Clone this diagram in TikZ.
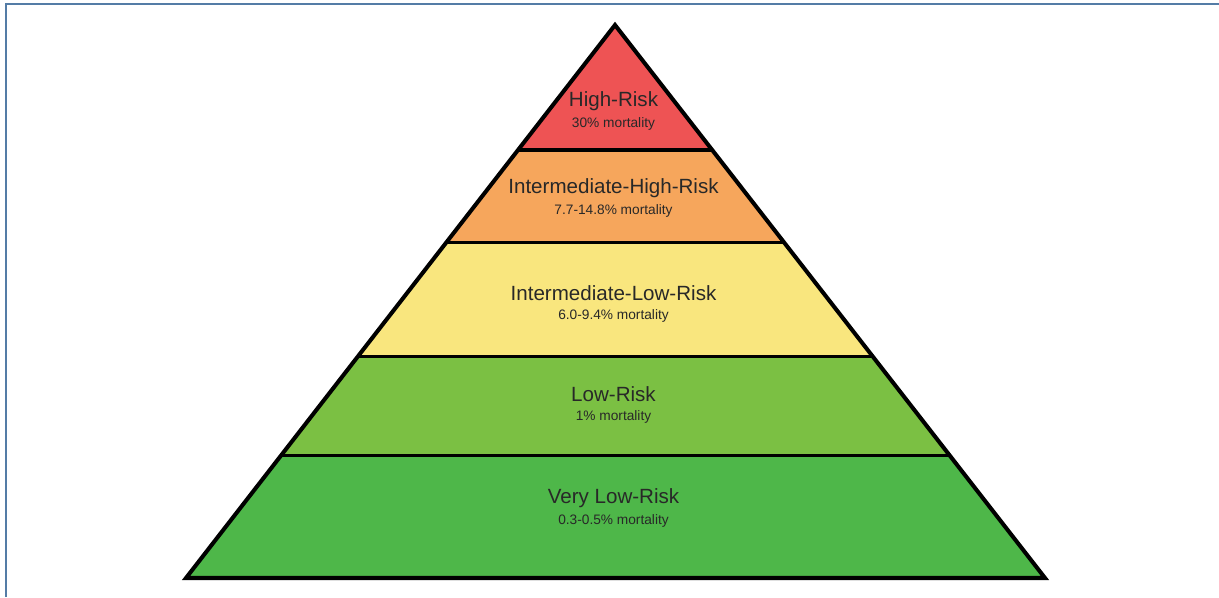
\documentclass[tikz,border=0pt]{standalone}
\usepackage{fontspec}
\setmainfont{Liberation Sans}
\usepackage{xcolor}
\usetikzlibrary{calc}
\definecolor{riskred}{RGB}{238,83,84}
\definecolor{riskorange}{RGB}{246,166,92}
\definecolor{riskyellow}{RGB}{249,230,126}
\definecolor{riskgreen}{RGB}{123,192,67}
\definecolor{riskdarkgreen}{RGB}{78,183,73}
\definecolor{frameblue}{RGB}{84,124,166}
\definecolor{labelgray}{RGB}{40,40,40}
\tikzstyle{level} = [text=labelgray,
font=\fontsize{11.7}{13}\selectfont]
\tikzstyle{rate} = [text=labelgray,
font=\fontsize{7.8}{9}\selectfont]
\tikzstyle{band} = [draw=black, line width=1.8pt]
\tikzstyle{outline} = [draw=black, line width=2.3pt]
\tikzstyle{frame} = [draw=frameblue, line width=1.5pt]

\begin{document}
\begin{tikzpicture}[node distance=0.46cm]
        \useasboundingbox (0,0) rectangle (24.38,-11.94);
        \draw [frame] (0.12,-11.94) -- (0.12,-0.08) -- (24.38,-0.08);
        \coordinate (top) at (12.3,-0.5);
        \coordinate (bl) at (3.72,-11.56);
        \coordinate (br) at (20.9,-11.56);
        \coordinate (l1) at ($(top)!0.226!(bl)$);
        \coordinate (r1) at ($(top)!0.226!(br)$);
        \coordinate (l2) at ($(top)!0.394!(bl)$);
        \coordinate (r2) at ($(top)!0.394!(br)$);
        \coordinate (l3) at ($(top)!0.599!(bl)$);
        \coordinate (r3) at ($(top)!0.599!(br)$);
        \coordinate (l4) at ($(top)!0.778!(bl)$);
        \coordinate (r4) at ($(top)!0.778!(br)$);
        \fill [riskred] (top) -- (l1) -- (r1) -- cycle;
        \fill [riskorange] (l1) -- (l2) -- (r2) -- (r1) -- cycle;
        \fill [riskyellow] (l2) -- (l3) -- (r3) -- (r2) -- cycle;
        \fill [riskgreen] (l3) -- (l4) -- (r4) -- (r3) -- cycle;
        \fill [riskdarkgreen] (l4) -- (bl) -- (br) -- (r4) -- cycle;
        \draw [band] (l1) -- (r1);
        \draw [band] (l2) -- (r2);
        \draw [band] (l3) -- (r3);
        \draw [band] (l4) -- (r4);
        \draw [outline] (top) -- (bl) -- (br) -- cycle;
        \node (high) [level] at (12.27,-2.02) {High-Risk};
        \node (highrate) [rate, below of=high] {30\% mortality};
        \node (inthigh) [level] at (12.27,-3.76) {Intermediate-High-Risk};
        \node (inthighrate) [rate, below of=inthigh] {7.7-14.8\% mortality};
        \node (intlow) [level] at (12.27,-5.86) {Intermediate-Low-Risk};
        \node (intlowrate) [rate, below of=intlow] {6.0-9.4\% mortality};
        \node (low) [level] at (12.27,-7.88) {Low-Risk};
        \node (lowrate) [rate, below of=low] {1\% mortality};
        \node (verylow) [level] at (12.27,-9.96) {Very Low-Risk};
        \node (verylowrate) [rate, below of=verylow] {0.3-0.5\% mortality};
    \end{tikzpicture}
\end{document}
